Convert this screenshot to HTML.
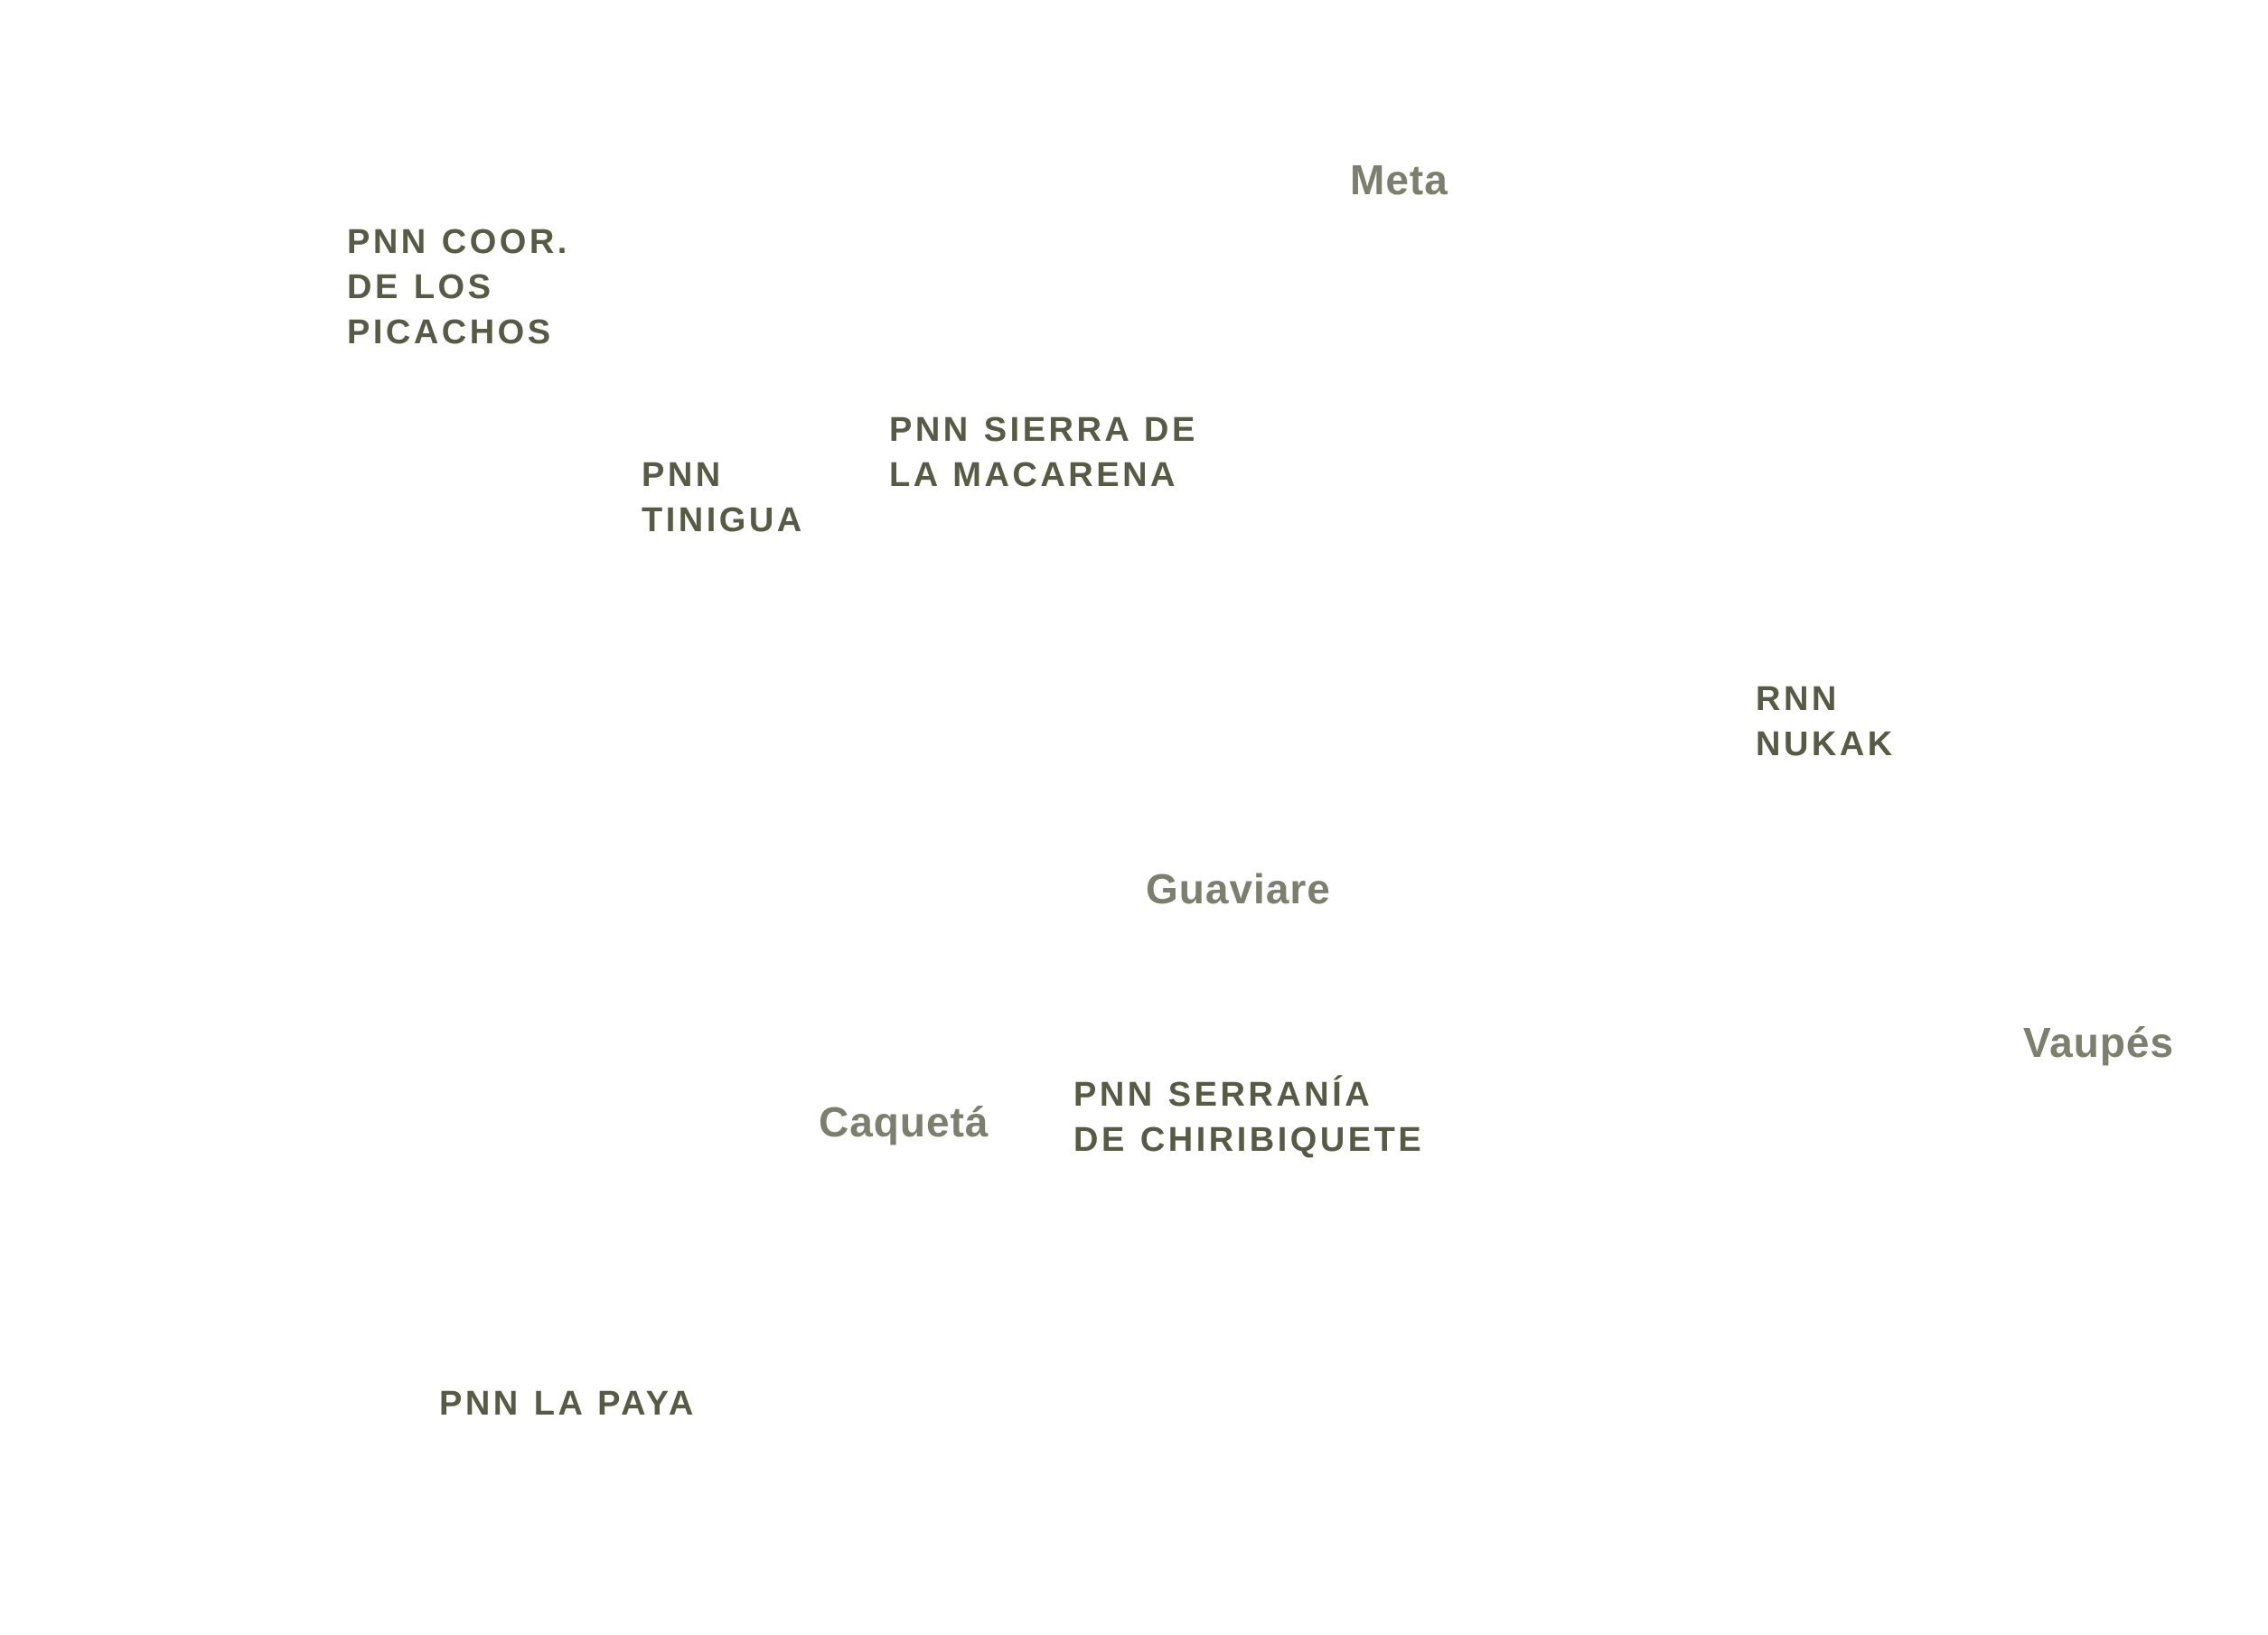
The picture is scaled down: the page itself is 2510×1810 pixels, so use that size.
<!DOCTYPE html>
<html><head><meta charset="utf-8"><style>
html,body{margin:0;padding:0;background:#fff;width:2510px;height:1810px;overflow:hidden;position:relative}
.t{position:absolute;font-family:"Liberation Sans",sans-serif;font-weight:bold;white-space:nowrap}
.p{color:#575a45;font-size:38px;letter-spacing:3.5px;line-height:50px}
.r{color:#7c7f6d;font-size:46px;letter-spacing:1px;line-height:50px}
</style></head><body>
<div class="t r" style="left:1494px;top:174px">Meta</div>
<div class="t p" style="left:384px;top:243px">PNN COOR.<br>DE LOS<br>PICACHOS</div>
<div class="t p" style="left:984px;top:451px">PNN SIERRA DE<br>LA MACARENA</div>
<div class="t p" style="left:710px;top:501px">PNN<br>TINIGUA</div>
<div class="t p" style="left:1943px;top:749px">RNN<br>NUKAK</div>
<div class="t r" style="left:1268px;top:959px">Guaviare</div>
<div class="t r" style="left:2239px;top:1129px">Vaupés</div>
<div class="t r" style="left:906px;top:1217px">Caquetá</div>
<div class="t p" style="left:1188px;top:1187px">PNN SERRANÍA<br>DE CHIRIBIQUETE</div>
<div class="t p" style="left:486px;top:1529px">PNN LA PAYA</div>
</body></html>
